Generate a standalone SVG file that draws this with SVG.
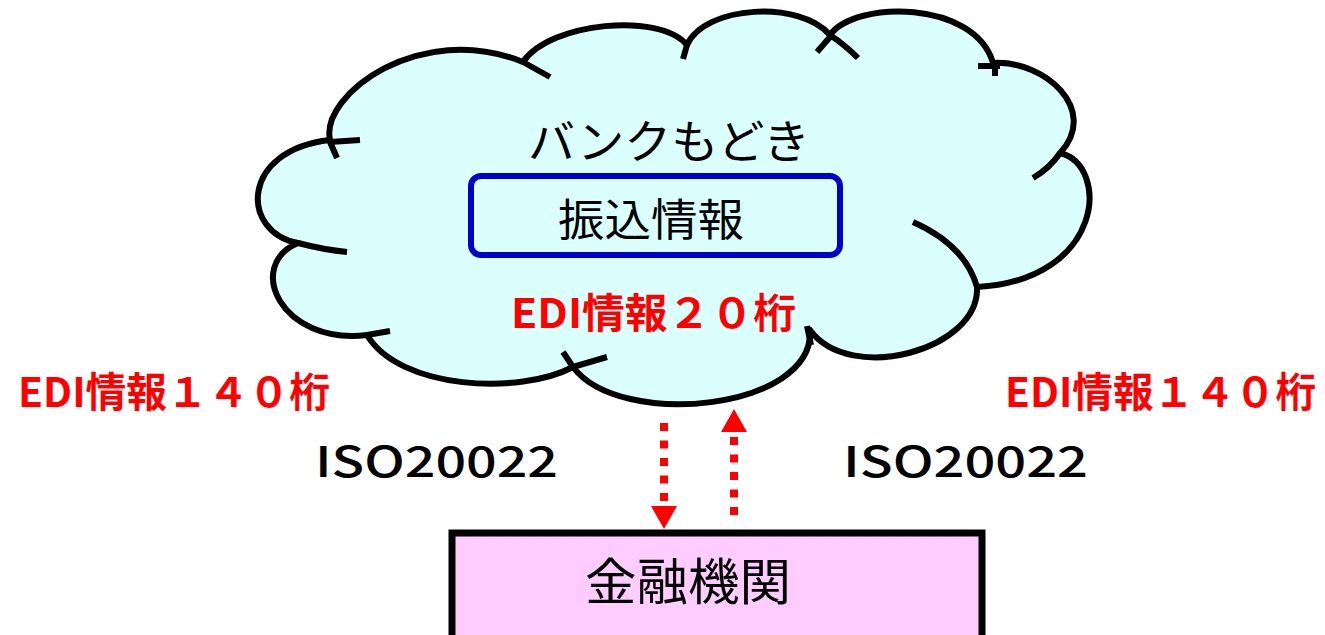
<svg xmlns="http://www.w3.org/2000/svg" width="1325" height="635" viewBox="0 0 1325 635">
<style>
.jp{font-family:"Noto Sans CJK JP","Noto Sans",sans-serif;}
.red{fill:#ff0000;font-weight:bold;font-size:41px;}
.iso{fill:#000;font-size:42px;font-weight:500;}
.blk{fill:#000;}
.cloudline{fill:none;stroke:#000;stroke-width:6;stroke-linecap:butt;}
.dots{stroke:#ff0000;stroke-width:8;stroke-dasharray:8 9.5;fill:none;}
</style>
<defs>
<marker id="ah" markerUnits="userSpaceOnUse" markerWidth="24" markerHeight="26" refX="0" refY="13" orient="auto">
<path d="M0,0 L23,13 L0,26 Z" fill="#ff0000"/>
</marker>
</defs>
<rect width="1325" height="635" fill="#ffffff"/>

<g id="cloud">
<path d="M330,140 C320,95 420,20 523,62 C550,22 660,12 687,45 C705,5 800,0 830,35 C855,0 975,0 993,63 C1045,60 1100,110 1060,153 C1110,165 1105,280 977,287 C980,350 850,385 810,330 C815,410 620,430 573,367 C520,395 400,390 367,335 C280,345 245,265 298,243 C240,232 240,150 330,140 Z" fill="#dbffff" stroke="#000" stroke-width="6" stroke-linejoin="round"/>
<path class="cloudline" d="M523,62 L550,77"/>
<path class="cloudline" d="M687,45 L683,59"/>
<path class="cloudline" d="M830,35 Q845,45 858,58"/>
<path class="cloudline" d="M830,37 L817,52"/>
<path class="cloudline" d="M978,66 L1000,66"/>
<path class="cloudline" d="M995,63 L995,76"/>
<path class="cloudline" d="M1060,153 Q1050,168 1033,178"/>
<path class="cloudline" d="M913,222 Q965,245 977,287"/>
<path class="cloudline" d="M807,326 L811,345"/>
<path class="cloudline" d="M563,352 L573,367 L607,357"/>
<path class="cloudline" d="M367,335 L390,331"/>
<path class="cloudline" d="M298,243 Q325,250 347,252"/>
<path class="cloudline" d="M330,142 L360,140"/>
<path class="cloudline" d="M330,142 L337,158"/>
<text class="jp blk" x="528" y="158" font-size="46" textLength="282" lengthAdjust="spacingAndGlyphs">バンクもどき</text>
</g>

<g id="furikomi">
<rect x="471" y="176" width="369" height="79" rx="10" ry="10" fill="#dbffff" stroke="#0000cc" stroke-width="6"/>
<text class="jp blk" x="558" y="236" font-size="44" textLength="186" lengthAdjust="spacingAndGlyphs">振込情報</text>
</g>

<g id="edi20">
<text class="jp red" x="511" y="328" textLength="285" lengthAdjust="spacingAndGlyphs">EDI情報２０桁</text>
</g>

<g id="edi140-left">
<text class="jp red" x="18" y="407" textLength="312" lengthAdjust="spacingAndGlyphs">EDI情報１４０桁</text>
</g>
<g id="edi140-right">
<text class="jp red" x="1005" y="407" textLength="311" lengthAdjust="spacingAndGlyphs">EDI情報１４０桁</text>
</g>

<g id="iso-left">
<text class="jp iso" x="315" y="477" textLength="243" lengthAdjust="spacingAndGlyphs">ISO20022</text>
</g>
<g id="iso-right">
<text class="jp iso" x="843" y="477" textLength="245" lengthAdjust="spacingAndGlyphs">ISO20022</text>
</g>

<g id="kinyu">
<rect x="452" y="533" width="530" height="130" fill="#ffccff" stroke="#000" stroke-width="7"/>
<text class="jp blk" x="585" y="600" font-size="50" textLength="206" lengthAdjust="spacingAndGlyphs">金融機関</text>
</g>

<g id="connectors">
<line class="dots" x1="664" y1="423" x2="664" y2="506" marker-end="url(#ah)"/>
<line class="dots" x1="734" y1="515" x2="734" y2="432" marker-end="url(#ah)"/>
</g>
</svg>
